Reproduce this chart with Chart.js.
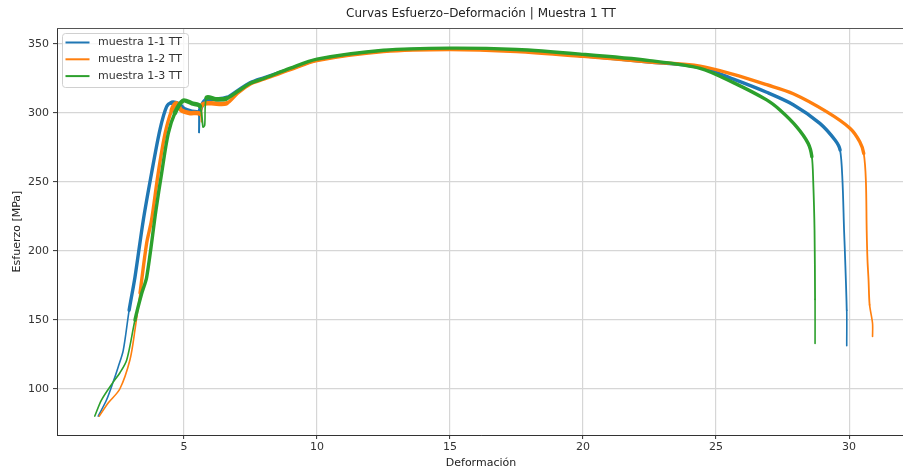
<!DOCTYPE html>
<html>
<head>
<meta charset="utf-8">
<script src="https://cdn.jsdelivr.net/npm/chart.js@4.4.1/dist/chart.umd.min.js"></script>
<style>
    html, body { margin: 0; padding: 0; background: #fff; overflow: hidden; }
    #wrap { width: 910px; height: 475px; }
</style>
</head>
<body>
<div id="wrap"><canvas id="chart" width="910" height="475"></canvas></div>
<script>
// Series: Deformación (x) and Esfuerzo [MPa] (y)
const labels = ['muestra 1-1 TT', 'muestra 1-2 TT', 'muestra 1-3 TT'];
const colors = ['#1f77b4', '#ff7f0e', '#2ca02c'];

const x11 = [1.78, 2.09, 2.34, 2.53, 2.72, 2.94, 3.16, 3.47, 3.78, 4.10, 4.35, 4.54, 4.80, 5.00, 5.30, 5.55, 5.57, 5.59, 5.75, 5.90, 6.30, 6.60, 7.00, 7.50, 8.00, 9.00, 10.0, 12.5, 15.0, 17.5, 20.0, 22.5, 24.4, 25.65, 26.9, 27.9, 28.9, 29.47, 29.66, 29.75, 29.81, 29.84, 29.91, 29.91];
const y11 = [80.4, 92, 105, 116, 128, 157, 181, 222, 256, 288, 304.6, 307.5, 306.5, 303, 301, 300, 286, 301, 308, 310, 310, 311, 316, 322, 325.5, 332, 338.5, 345, 346.5, 345, 341.5, 337, 333, 324.5, 315, 306, 292.5, 280.4, 273.2, 251, 215, 200, 157, 131.4];

const x12 = [1.82, 2.16, 2.59, 2.97, 3.16, 3.35, 3.60, 3.78, 4.03, 4.29, 4.54, 4.72, 4.90, 5.20, 5.60, 5.66, 5.70, 6.00, 6.60, 7.00, 7.50, 8.00, 9.00, 10.0, 12.5, 15.0, 17.5, 20.0, 22.5, 24.4, 25.65, 26.9, 27.9, 29.15, 30.03, 30.4, 30.55, 30.63, 30.66, 30.69, 30.73, 30.77, 30.88, 30.88];
const y12 = [80.4, 90, 100, 121, 142.8, 169.5, 205.8, 222, 256, 285, 302, 307, 302, 300, 299.5, 293.7, 306, 307, 307, 314, 321, 324.5, 331.5, 338, 344.5, 346, 344.5, 341, 337, 334, 328, 320.5, 314, 301, 289, 279.2, 270.7, 251, 215, 193.5, 179, 161, 147.6, 138];

const x13 = [1.65, 1.90, 2.34, 2.59, 2.85, 3.16, 3.41, 3.60, 3.95, 4.16, 4.41, 4.66, 4.97, 5.30, 5.60, 5.72, 5.78, 5.85, 6.20, 6.60, 7.00, 7.50, 8.00, 9.00, 10.0, 12.5, 15.0, 17.5, 20.0, 22.5, 24.4, 25.65, 26.9, 27.4, 28.03, 28.46, 28.60, 28.65, 28.70, 28.72, 28.72];
const y13 = [80.4, 92, 105, 111.6, 121, 150, 169, 181, 229.7, 256, 285, 300, 309, 307, 305, 290, 291, 311, 310, 310.5, 315.4, 321.5, 325, 332.5, 339, 345.5, 347, 346, 342.5, 338, 332.4, 322, 309.5, 302.2, 290, 278, 268.3, 251, 215, 165, 133];

const xTicks = [5, 10, 15, 20, 25, 30];
const yTicks = [100, 150, 200, 250, 300, 350];

const FONT = 'DejaVu Sans';

function toPoints(xs, ys) {
    return xs.map((x, i) => ({ x: x, y: ys[i] }));
}

// thin at the foot, on the spikes and on the final drop; wider where the recorded data is noisy
function segWidth(ctx) {
    const a = ctx.p0.parsed, b = ctx.p1.parsed;
    const dx = Math.max(b.x - a.x, 1e-6);
    const slope = (b.y - a.y) / dx;
    if (Math.min(a.y, b.y) < 150) return 1.6;
    if (slope < -100) return 1.8;
    if (a.x > 5.4 && b.x < 5.95 && Math.min(a.y, b.y) < 298) return 1.6;
    if (a.x > 4.4 && b.x < 6.7 && Math.min(a.y, b.y) > 295) return 4.5;
    return 3.4;
}

// title centred over the plot, like the original
const titlePlugin = {
    id: 'plotTitle',
    afterDraw(chart) {
        const { ctx, chartArea } = chart;
        ctx.save();
        ctx.fillStyle = '#222';
        ctx.font = '12px "' + FONT + '"';
        ctx.textAlign = 'center';
        ctx.textBaseline = 'middle';
        ctx.fillText('Curvas Esfuerzo–Deformación | Muestra 1 TT', (chartArea.left + chartArea.right) / 2, 14);
        // top spine
        ctx.strokeStyle = '#555';
        ctx.lineWidth = 1;
        ctx.beginPath();
        ctx.moveTo(chartArea.left, chartArea.top + 0.5);
        ctx.lineTo(chartArea.right, chartArea.top + 0.5);
        ctx.stroke();
        ctx.restore();
    }
};

// legend box inside the upper left corner
const legendPlugin = {
    id: 'boxLegend',
    afterDraw(chart) {
        const ctx = chart.ctx;
        const left = chart.chartArea.left + 5.5, top = 33.5, w = 126, h = 54;
        ctx.save();
        ctx.beginPath();
        ctx.roundRect(left, top, w, h, 3);
        ctx.fillStyle = 'rgba(255,255,255,0.8)';
        ctx.fill();
        ctx.strokeStyle = '#d0d0d0';
        ctx.lineWidth = 1;
        ctx.stroke();
        ctx.font = '11px "' + FONT + '"';
        ctx.textBaseline = 'middle';
        chart.data.datasets.forEach((ds, i) => {
            const y = 42.5 + i * 16.8;
            ctx.strokeStyle = ds.borderColor;
            ctx.lineWidth = 2;
            ctx.beginPath();
            ctx.moveTo(left + 3, y);
            ctx.lineTo(left + 27, y);
            ctx.stroke();
            ctx.fillStyle = '#333';
            ctx.fillText(ds.label, left + 35.5, y);
        });
        ctx.restore();
    }
};

function initChart() {
    const series = [[x11, y11], [x12, y12], [x13, y13]];
    const ctx = document.getElementById('chart').getContext('2d');
    new Chart(ctx, {
        type: 'line',
        data: {
            datasets: series.map((s, i) => ({
                label: labels[i],
                data: toPoints(s[0], s[1]),
                borderColor: colors[i],
                backgroundColor: colors[i],
                borderWidth: 3,
                borderCapStyle: 'round',
                borderJoinStyle: 'round',
                pointRadius: 0,
                tension: 0.3,
                fill: false,
                order: 2 - i,
                segment: { borderWidth: segWidth }
            }))
        },
        options: {
            responsive: false,
            animation: false,
            layout: { padding: { left: 0, right: 5, top: 28, bottom: 0 } },
            plugins: {
                legend: { display: false },
                tooltip: { enabled: false },
                title: { display: false }
            },
            scales: {
                x: {
                    type: 'linear',
                    min: 0.23,
                    max: 32.1,
                    afterBuildTicks: scale => { scale.ticks = xTicks.map(v => ({ value: v })); },
                    afterFit: scale => { scale.height = 40; },
                    grid: { color: '#d6d6d6', lineWidth: 1.2, tickColor: '#333', tickLength: 4, tickWidth: 1 },
                    border: { display: true, color: '#333', width: 1 },
                    ticks: { color: '#333', font: { family: FONT, size: 11 }, padding: 2, maxRotation: 0 },
                    title: { display: true, text: 'Deformación', color: '#222', font: { family: FONT, size: 11 }, padding: { top: 0, bottom: 5.4 } }
                },
                y: {
                    type: 'linear',
                    min: 66.67,
                    max: 361.6,
                    afterBuildTicks: scale => { scale.ticks = yTicks.map(v => ({ value: v })); },
                    afterFit: scale => { scale.width = 57; },
                    grid: { color: '#d6d6d6', lineWidth: 1.2, tickColor: '#333', tickLength: 4, tickWidth: 1 },
                    border: { display: true, color: '#333', width: 1 },
                    ticks: { color: '#333', font: { family: FONT, size: 11 }, padding: 4 },
                    title: { display: true, text: 'Esfuerzo [MPa]', color: '#222', font: { family: FONT, size: 11 }, padding: { top: 10.4, bottom: 0 } }
                }
            }
        },
        plugins: [titlePlugin, legendPlugin]
    });
}

document.addEventListener('DOMContentLoaded', initChart);
</script>
</body>
</html>
